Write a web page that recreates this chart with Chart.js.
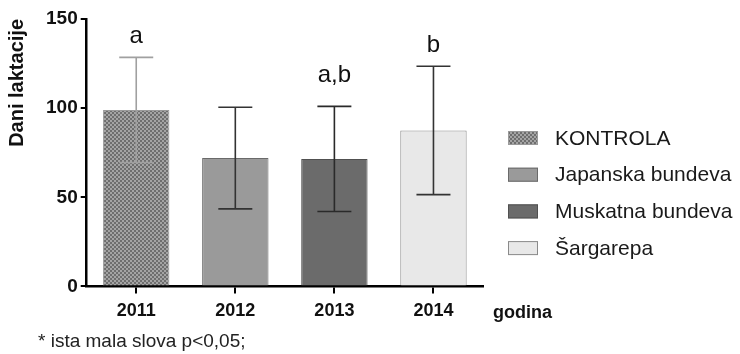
<!DOCTYPE html>
<html lang="en">
<head>
    <meta charset="UTF-8">
    <script src="https://cdn.jsdelivr.net/npm/chart.js"></script>
    <title>Dani laktacije</title>
    <style>
        body { margin: 0; background: #fff; }
        #wrap { width: 740px; height: 354px; }
    </style>
</head>
<body>
    <div id="wrap"><canvas id="grafico"></canvas></div>
<script>
    // podaci
    var godine = ['2011', '2012', '2013', '2014'];
    var grupe = ['KONTROLA', 'Japanska bundeva', 'Muskatna bundeva', 'Šargarepa'];
    var prosjek = [99, 72, 71.5, 87.5];
    var sd = [29.5, 28.5, 29.5, 36];
    var slova = ['a', '', 'a,b', 'b'];
    var yTicks = [0, 50, 100, 150];
    var napomena = '* ista mala slova p<0,05;';

    var FONT = '"Liberation Sans", Arial, sans-serif';

    // sitna kockasta sara za kontrolu
    function napraviSaru() {
        var c = document.createElement('canvas');
        c.width = 4; c.height = 4;
        var g = c.getContext('2d');
        g.fillStyle = '#a4a4a4';
        g.fillRect(0, 0, 4, 4);
        g.fillStyle = '#6e6e6e';
        g.fillRect(0, 0, 2, 2);
        g.fillRect(2, 2, 2, 2);
        return g.createPattern(c, 'repeat');
    }

    var boje = [napraviSaru(), '#9a9a9a', '#6b6b6b', '#e8e8e8'];
    var okviri = ['#9a9a9a', '#6a6a6a', '#505050', '#8a8a8a'];
    var bojeGreske = ['#a0a0a0', '#333333', '#2a2a2a', '#333333'];
    var razmakSlova = [14, 14, 24, 14];

    var greskePlugin = {
        id: 'greske',
        afterDatasetsDraw: function (chart) {
            var ctx = chart.ctx;
            var x = chart.scales.x, y = chart.scales.y;
            var area = chart.chartArea;
            ctx.save();
            for (var i = 0; i < prosjek.length; i++) {
                var px = x.getPixelForValue(i);
                var top = y.getPixelForValue(prosjek[i] + sd[i]);
                var bot = y.getPixelForValue(prosjek[i] - sd[i]);
                ctx.strokeStyle = bojeGreske[i];
                ctx.lineWidth = 1.6;
                ctx.beginPath();
                ctx.moveTo(px, top); ctx.lineTo(px, bot);
                ctx.moveTo(px - 17, top); ctx.lineTo(px + 17, top);
                ctx.moveTo(px - 17, bot); ctx.lineTo(px + 17, bot);
                ctx.stroke();

                if (slova[i]) {
                    ctx.fillStyle = '#111';
                    ctx.font = '24px ' + FONT;
                    ctx.textAlign = 'center';
                    ctx.textBaseline = 'alphabetic';
                    ctx.fillText(slova[i], px, top - razmakSlova[i]);
                }
            }
            // naziv x ose na kraju ose
            ctx.fillStyle = '#111';
            ctx.font = 'bold 18px ' + FONT;
            ctx.textAlign = 'left';
            ctx.textBaseline = 'middle';
            ctx.fillText('godina', area.right + 10, y.getPixelForValue(0) + 27);

            // legenda
            ctx.font = '21px ' + FONT;
            for (var j = 0; j < grupe.length; j++) {
                var ly = area.top + 119 + j * 36.7;
                var lx = area.right + 25;
                ctx.fillStyle = boje[j];
                ctx.fillRect(lx, ly - 7, 30, 14);
                ctx.strokeStyle = okviri[j];
                ctx.lineWidth = 1;
                ctx.strokeRect(lx + 0.5, ly - 6.5, 29, 13);
                ctx.fillStyle = '#1a1a1a';
                ctx.fillText(grupe[j], lx + 47, ly + 1);
            }

            // napomena ispod grafika
            ctx.font = '19px ' + FONT;
            ctx.fillStyle = '#222';
            ctx.textBaseline = 'alphabetic';
            ctx.fillText(napomena, 38, chart.height - 7);
            ctx.restore();
        }
    };

    var ctx = document.getElementById('grafico').getContext('2d');
    var myChart = new Chart(ctx, {
        type: 'bar',
        data: {
            labels: godine,
            datasets: [{
                label: 'Dani laktacije',
                data: prosjek,
                backgroundColor: boje,
                borderColor: okviri,
                borderWidth: 1,
                borderSkipped: 'bottom',
                categoryPercentage: 1,
                barPercentage: 0.67
            }]
        },
        options: {
            responsive: true,
            maintainAspectRatio: false,
            animation: false,
            layout: { padding: { top: 19, left: 0, right: 257, bottom: 25 } },
            plugins: {
                tooltip: { enabled: false },
                legend: { display: false }
            },
            scales: {
                x: {
                    offset: true,
                    grid: {
                        offset: false,
                        drawOnChartArea: false,
                        drawTicks: true,
                        tickLength: 7,
                        color: '#000',
                        lineWidth: 2
                    },
                    border: { color: '#000', width: 2.5 },
                    ticks: {
                        color: '#111',
                        padding: 7,
                        font: { family: FONT, size: 18, weight: 'bold' }
                    }
                },
                y: {
                    min: 0,
                    max: 150,
                    afterBuildTicks: function (axis) {
                        axis.ticks = yTicks.map(function (v) { return { value: v }; });
                    },
                    grid: {
                        drawOnChartArea: false,
                        drawTicks: true,
                        tickLength: 6,
                        color: '#000',
                        lineWidth: 2
                    },
                    border: { color: '#000', width: 2.5 },
                    ticks: {
                        color: '#111',
                        padding: 3,
                        font: { family: FONT, size: 19, weight: 'bold' }
                    },
                    title: {
                        display: true,
                        align: 'end',
                        text: 'Dani laktacije',
                        color: '#111',
                        font: { family: FONT, size: 20, weight: 'bold' },
                        padding: { top: 5, bottom: 14 }
                    }
                }
            }
        },
        plugins: [greskePlugin]
    });
</script>
</body>
</html>
